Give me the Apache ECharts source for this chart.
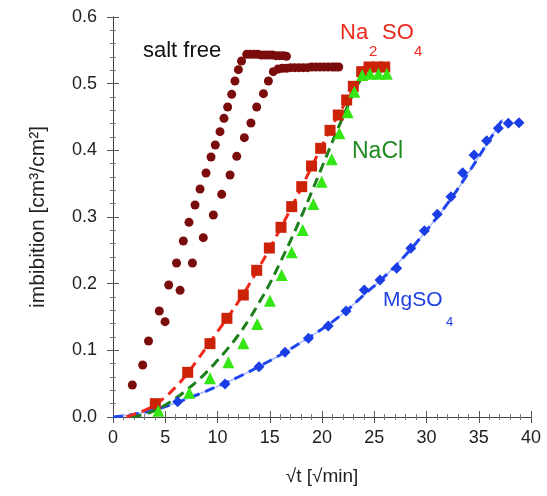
<!DOCTYPE html>
<html>
<head>
<meta charset="utf-8">
<script src="https://cdn.jsdelivr.net/npm/echarts@6/dist/echarts.min.js"></script>
<style>
  html, body { margin: 0; padding: 0; background: #fff; }
  #chart-container { width: 547px; height: 496px; }
</style>
</head>
<body>
<div id="chart-container"></div>
<script>
// salt free, two runs (x = sqrt t, y = imbibition)
const saltFreeA = [
  [1.85, 0.048], [2.84, 0.078], [3.4, 0.114], [4.43, 0.159], [5.33, 0.198],
  [6.08, 0.231], [6.73, 0.264], [7.27, 0.292], [7.85, 0.318], [8.33, 0.342],
  [8.9, 0.366], [9.38, 0.39], [9.79, 0.408], [10.24, 0.428], [10.62, 0.448],
  [10.97, 0.465], [11.36, 0.484], [11.67, 0.504], [12.0, 0.521], [12.3, 0.534],
  [12.8, 0.544], [13.15, 0.544], [13.5, 0.544], [13.85, 0.544], [14.2, 0.543],
  [14.55, 0.543], [14.9, 0.543], [15.25, 0.543], [15.6, 0.542], [15.95, 0.542],
  [16.3, 0.542], [16.6, 0.541]
];
const saltFreeB = [
  [4.98, 0.143], [6.42, 0.19], [7.6, 0.231], [8.64, 0.269], [9.6, 0.303],
  [10.4, 0.334], [11.2, 0.363], [11.84, 0.391], [12.57, 0.419], [13.2, 0.441],
  [13.75, 0.465], [14.4, 0.485], [14.87, 0.504], [15.34, 0.518], [15.8, 0.522],
  [16.2, 0.523], [16.6, 0.523], [17.0, 0.524], [17.4, 0.524], [17.8, 0.524],
  [18.2, 0.524], [18.6, 0.524], [19.0, 0.525], [19.4, 0.525], [19.8, 0.525],
  [20.2, 0.525], [20.6, 0.525], [21.0, 0.525], [21.3, 0.525], [21.6, 0.525]
];
const na2so4Pts = [
  [4.05, 0.02], [7.15, 0.067], [9.28, 0.11], [10.9, 0.148], [12.47, 0.183],
  [13.75, 0.22], [14.96, 0.2535], [16.08, 0.2845], [17.1, 0.3155], [18.06, 0.3455],
  [19.0, 0.3765], [19.87, 0.403], [20.77, 0.43], [21.56, 0.453], [22.36, 0.4755],
  [23.0, 0.496], [23.8, 0.518], [24.5, 0.525], [25.3, 0.525], [26.0, 0.525]
];
const na2so4Fit = [
  [1.3, 0], [2, 0.004], [3, 0.01], [4, 0.018], [5, 0.03], [6, 0.045], [7, 0.063],
  [8, 0.084], [9, 0.106], [10, 0.128], [11, 0.15], [12, 0.173], [13, 0.198],
  [14, 0.225], [15, 0.253], [16, 0.282], [17, 0.312], [18, 0.343], [19, 0.375],
  [20, 0.407], [21, 0.437], [22, 0.465], [23, 0.492], [24, 0.518]
];
const naclPts = [
  [4.34, 0.0095], [7.3, 0.0365], [9.28, 0.058], [11.04, 0.082], [12.47, 0.1105],
  [13.8, 0.1395], [15.02, 0.1745], [16.14, 0.213], [17.1, 0.247], [18.15, 0.2805],
  [19.17, 0.3195], [19.97, 0.353], [20.93, 0.3865], [21.66, 0.4255], [22.46, 0.457],
  [23.1, 0.488], [23.85, 0.513], [24.6, 0.515], [25.4, 0.515], [26.2, 0.515]
];
const naclFit = [
  [1.8, 0], [3, 0.004], [4, 0.01], [5, 0.018], [6, 0.028], [7, 0.04], [8, 0.053],
  [9, 0.068], [10, 0.085], [11, 0.103], [12, 0.123], [13, 0.146], [14, 0.172],
  [15, 0.2], [16, 0.232], [17, 0.265], [18, 0.3], [19, 0.337], [20, 0.375],
  [21, 0.413], [22, 0.45], [23, 0.485], [24, 0.515]
];
const mgso4Pts = [
  [6.19, 0.023], [10.72, 0.0495], [13.97, 0.0755], [16.46, 0.097], [18.7, 0.118],
  [20.6, 0.1365], [22.3, 0.159], [24.05, 0.1905], [25.55, 0.2055], [27.15, 0.223],
  [28.5, 0.253], [29.8, 0.2795], [31.03, 0.304], [32.34, 0.3305], [33.46, 0.3665],
  [34.55, 0.393], [35.76, 0.4145], [36.87, 0.433], [37.83, 0.4405], [38.85, 0.4415]
];
const mgso4Fit = [
  [0, 0], [2, 0.004], [4, 0.011], [6, 0.021], [8, 0.033], [10, 0.046], [12, 0.06],
  [14, 0.076], [16, 0.093], [18, 0.112], [20, 0.132], [22, 0.155], [24, 0.183],
  [26, 0.211], [28, 0.243], [30, 0.28], [32, 0.32], [34, 0.366], [36, 0.415], [37.3, 0.447]
];

const FONT = 'Liberation Sans';

const myChart = echarts.init(document.getElementById('chart-container'));

const baseAxis = {
  type: 'value',
  axisLine: { lineStyle: { color: '#444', width: 1 } },
  axisTick: { inside: true, length: 6, lineStyle: { color: '#555' } },
  minorTick: { show: true, splitNumber: 5, length: 3, lineStyle: { color: '#777' } },
  splitLine: { show: false }
};

const option = {
  animation: false,
  backgroundColor: '#fff',
  grid: { left: 113, top: 17, width: 418, height: 400 },
  xAxis: [
    Object.assign({}, baseAxis, {
      min: 0, max: 40, interval: 5, position: 'bottom',
      name: '√t [√min]', nameLocation: 'middle', nameGap: 50,
      nameTextStyle: { fontFamily: FONT, fontSize: 19, color: '#222' },
      axisLabel: { fontFamily: FONT, fontSize: 18, color: '#222', margin: 12 }
    }),
    Object.assign({}, baseAxis, {
      min: 0, max: 40, interval: 5, position: 'top',
      axisLabel: { show: false }
    })
  ],
  yAxis: [
    Object.assign({}, baseAxis, {
      min: 0, max: 0.6, interval: 0.1, position: 'left',
      name: 'imbibition [cm³/cm²]', nameLocation: 'middle', nameGap: 64, nameRotate: 90,
      nameTextStyle: { fontFamily: FONT, fontSize: 21, color: '#222' },
      axisLabel: { fontFamily: FONT, fontSize: 18, color: '#222', margin: 16,
        formatter: v => v.toFixed(1) }
    }),
    Object.assign({}, baseAxis, {
      min: 0, max: 0.6, interval: 0.1, position: 'right',
      axisLabel: { show: false }
    })
  ],
  series: [
    { name: 'MgSO4 line', type: 'line', data: mgso4Fit, smooth: true, showSymbol: false,
      lineStyle: { color: '#a9b8ff', width: 1.5 }, z: 2 },
    { name: 'MgSO4 fit', type: 'line', data: mgso4Fit, smooth: true, showSymbol: false,
      lineStyle: { color: '#1f45ee', width: 3, type: [10, 6] }, z: 3 },
    { name: 'NaCl fit', type: 'line', data: naclFit, smooth: true, showSymbol: false,
      lineStyle: { color: '#1b7f1b', width: 3, type: [10, 6] }, z: 3 },
    { name: 'Na2SO4 fit', type: 'line', data: na2so4Fit, smooth: true, showSymbol: false,
      lineStyle: { color: '#f02a1a', width: 3, type: [10, 6] }, z: 3 },
    { name: 'salt free A', type: 'scatter', data: saltFreeA, symbol: 'circle', symbolSize: 9,
      itemStyle: { color: '#7a0c0c', opacity: 1 }, z: 4 },
    { name: 'salt free B', type: 'scatter', data: saltFreeB, symbol: 'circle', symbolSize: 9,
      itemStyle: { color: '#7a0c0c', opacity: 1 }, z: 4 },
    { name: 'Na2SO4', type: 'scatter', data: na2so4Pts, symbol: 'rect', symbolSize: 11,
      itemStyle: { color: '#cc2208', opacity: 1 }, z: 4 },
    { name: 'NaCl', type: 'scatter', data: naclPts, symbol: 'triangle', symbolSize: 12,
      itemStyle: { color: '#33e614', opacity: 1 }, z: 5 },
    { name: 'MgSO4', type: 'scatter', data: mgso4Pts, symbol: 'diamond', symbolSize: 11,
      itemStyle: { color: '#1a3de6', opacity: 1 }, z: 5 }
  ],
  graphic: [
    { type: 'text', left: 143, top: 40, style: { text: 'salt free', fontFamily: FONT, fontSize: 22, fill: '#111' } },
    { type: 'text', left: 340, top: 22, style: { text: 'Na', fontFamily: FONT, fontSize: 22, fill: '#e8291c' } },
    { type: 'text', left: 369, top: 44, style: { text: '2', fontFamily: FONT, fontSize: 15, fill: '#e8291c' } },
    { type: 'text', left: 382, top: 22, style: { text: 'SO', fontFamily: FONT, fontSize: 22, fill: '#e8291c' } },
    { type: 'text', left: 414, top: 44, style: { text: '4', fontFamily: FONT, fontSize: 15, fill: '#e8291c' } },
    { type: 'text', left: 352, top: 140, style: { text: 'NaCl', fontFamily: FONT, fontSize: 23, fill: '#1f8a1f' } },
    { type: 'text', left: 383, top: 290, style: { text: 'MgSO', fontFamily: FONT, fontSize: 21, fill: '#1d3fe0' } },
    { type: 'text', left: 446, top: 316, style: { text: '4', fontFamily: FONT, fontSize: 13, fill: '#1d3fe0' } }
  ]
};

myChart.setOption(option);
</script>
</body>
</html>
